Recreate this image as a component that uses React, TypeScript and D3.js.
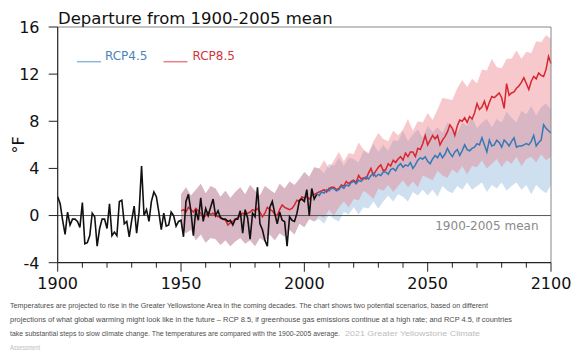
import React from "react";
import * as d3 from "d3";

// ---------- data ----------
const obsStart = 1900;
const observed = [
  1.6, 1.0, -0.4, -1.6, 0.3, -0.8, -0.3, -0.3, -0.5, -1.0,
  1.1, -2.4, -2.3, -1.7, 0.2, -0.1, -2.6, -1.1, -0.3, -0.3,
  -1.1, 1.0, -1.7, -1.4, -1.7, 1.2, 1.3, -0.7, -0.5, -1.8,
  -0.4, 0.8, -1.5, 0.3, 4.2, 0.0, 0.5, -0.5, 1.2, 2.0,
  1.6, 0.3, -1.2, 0.2, -0.9, -0.8, 0.3, 0.0, -0.9, -0.5,
  -0.4, -1.8, 1.2, 1.8, 0.4, -1.7, 0.5, -0.4, 1.5, -0.5,
  0.6, 0.0, 0.7, 1.4, 0.0, 0.4, -0.2, -0.3, -0.3, -0.5,
  -0.4, -0.8, -0.3, -0.3, 0.4, -1.5, 0.5, -0.2, -2.0, 0.2,
  -0.1, 2.4, -0.7, -1.2, -2.1, -2.6, 0.7, 1.2, 0.2, -0.7,
  0.3, -0.4, -0.5, -2.6, -0.1, -0.4, -0.5, 0.2, 1.3, 1.4,
  1.2, 2.2, 0.0, 2.3, 1.4, 1.8,
];

const modelStart = 1950;
const histMean = [
  0.4, 0.5, 0.3, 0.7, 0.5, 0.3, 0.6, 0.4, 0.2, -0.2,
  0.0, 0.3, 0.1, 0.2, 0.0, -0.1, -0.1, -0.3, -0.4, -0.8,
  -0.6, -0.5, -0.3, -0.2, 0.0, 0.2, 0.1, 0.2, 0.3, 0.5,
  0.4, 0.6, 0.3, -0.1, 0.2, 0.7, 0.5, 0.4, 0.1, 0.0,
  0.5, 0.9, 0.7, 0.6, 0.5, 0.6, 0.9, 1.3, 1.2, 1.6,
  1.5, 1.6, 1.4, 1.7, 1.8, 1.9,
];
const rcp85Proj = [
  2.0, 2.1, 2.2, 2.0, 2.3, 2.4, 2.4, 2.2, 2.3, 2.6,
  2.5, 2.9, 2.7, 2.9, 3.0, 2.8, 3.4, 3.1, 3.2, 3.1,
  3.6, 4.0, 3.4, 3.8, 4.1, 4.3, 3.8, 3.9, 4.4, 4.2,
  4.7, 4.5, 4.8, 5.0, 4.7, 5.3, 5.0, 5.4, 5.4, 5.0,
  5.7, 5.6, 6.1, 6.8, 6.0, 6.4, 6.8, 6.5, 6.8, 6.0,
  6.4, 6.7, 7.1, 7.7, 7.4, 6.8, 7.6, 8.1, 8.0, 8.3,
  7.9, 8.4, 8.2, 8.7, 9.5, 9.0, 9.2, 9.7, 9.0, 9.6,
  10.1, 10.0, 10.2, 10.4, 10.0, 9.1, 11.2, 10.2, 10.4, 10.5,
  10.8, 11.0, 11.3, 11.7, 11.2, 10.7, 11.4, 11.8, 11.6, 12.1,
  11.9, 11.8, 12.4, 13.5, 12.9,
];
const rcp45Proj = [
  1.7, 2.0, 1.9, 2.2, 2.1, 2.3, 2.3, 2.1, 2.2, 2.5,
  2.3, 2.6, 2.5, 2.8, 2.9, 2.7, 3.0, 2.9, 3.1, 3.3,
  3.1, 3.4, 3.6, 3.3, 3.5, 3.4, 3.7, 3.7, 3.5, 3.9,
  4.0, 3.8, 4.2, 4.4, 4.1, 4.3, 4.2, 4.5, 4.0, 4.3,
  4.7, 4.9, 4.8, 5.0, 4.6, 4.4, 4.8, 5.1, 4.9, 5.3,
  4.9, 5.2, 5.7, 5.3, 5.0, 5.4, 5.6, 5.1, 5.5, 6.0,
  5.6, 5.5, 5.7, 5.8, 6.1, 6.0, 6.6, 6.0, 5.4, 6.4,
  5.9, 6.0, 6.4, 6.2, 5.8, 6.4, 6.2, 5.9, 6.3, 6.6,
  5.8, 5.9, 5.9, 6.0, 6.1, 6.0, 6.3, 6.8, 5.9, 6.2,
  6.4, 7.7, 7.4, 7.2, 7.0,
];

// model spread, every 2 years from 1950
const bandStart = 1950;
const bandStep = 2;
const histHi = [
  1.8, 2.4, 1.7, 2.2, 2.7, 1.9, 2.5, 2.3, 1.6, 2.1,
  1.5, 2.0, 2.4, 1.8, 2.6, 2.1, 1.7, 2.5, 2.2, 1.9,
  2.7, 2.3, 2.9, 2.6, 3.1, 3.7, 3.3, 4.1,
];
const histLo = [
  -1.0, -1.5, -1.2, -2.1, -1.6, -2.3, -1.9, -2.0, -2.5, -2.1,
  -2.6, -2.2, -1.9, -2.4, -2.1, -2.6, -1.9, -2.2, -1.6, -2.1,
  -1.5, -1.8, -1.2, -1.6, -0.7, -1.0, -0.3, -0.5,
];
const rcp85HiProj = [
  4.0, 4.7, 4.0, 4.7, 5.4, 4.6, 5.3, 5.2, 6.2, 5.6,
  5.3, 6.3, 7.0, 6.5, 6.3, 7.2, 6.8, 7.3, 8.2, 7.2,
  8.0, 7.9, 8.7, 8.1, 9.0, 10.0, 9.9, 9.8, 10.8, 11.5,
  10.9, 11.6, 11.2, 12.4, 12.3, 13.3, 12.6, 12.5, 13.3, 13.3,
  14.0, 13.3, 13.9, 13.8, 14.8, 14.7, 15.3, 15.0,
];
const rcp85LoProj = [
  0.0, -0.2, 0.5, 0.0, 0.7, 1.2, 0.7, 1.4, 1.3, 2.1,
  1.8, 1.4, 2.3, 2.1, 2.6, 2.0, 2.5, 3.0, 2.4, 2.9,
  2.4, 3.4, 3.2, 3.0, 3.8, 3.4, 3.2, 3.9, 3.6, 4.2,
  3.5, 4.2, 4.1, 4.7, 4.0, 4.4, 4.8, 4.1, 4.7, 4.4,
  5.0, 4.2, 4.8, 5.0, 4.5, 5.2, 4.7, 5.0,
];
const rcp45HiProj = [
  4.0, 3.6, 4.4, 4.2, 4.9, 4.2, 4.9, 4.8, 4.5, 5.5,
  5.2, 6.1, 5.4, 6.0, 5.5, 6.4, 6.3, 7.2, 6.3, 6.9,
  7.3, 6.6, 7.6, 7.1, 7.5, 7.0, 7.9, 7.4, 7.0, 7.9,
  7.6, 8.4, 7.4, 7.9, 8.2, 7.5, 8.2, 7.9, 8.8, 8.3,
  7.9, 8.9, 8.6, 9.3, 8.5, 9.2, 9.5, 9.0,
];
const rcp45LoProj = [
  -0.3, -0.7, 0.1, -0.3, -0.5, 0.3, 0.1, 0.7, 0.1, 0.7,
  0.6, 1.2, 0.6, 1.2, 1.7, 1.2, 1.8, 1.6, 1.2, 2.0,
  1.7, 2.2, 1.7, 2.2, 1.6, 2.5, 2.1, 1.9, 2.5, 2.2,
  2.8, 2.2, 2.5, 2.8, 2.0, 2.6, 2.3, 2.8, 2.1, 2.5,
  2.8, 2.2, 2.6, 1.8, 2.6, 2.2, 1.9, 2.6,
];

const yTicks = [-4, 0, 4, 8, 12, 16];
const xMajorTicks = [1900, 1950, 2000, 2050, 2100];
const xMinorTicks = d3.range(1900, 2101, 10);
const seriesNames = ["RCP4.5", "RCP8.5"];
const titleText = "Departure from 1900-2005 mean";
const yLabel = "°F";
const zeroLabel = "1900-2005 mean";
const captionLines = [
  "Temperatures are projected to rise in the Greater Yellowstone Area in the coming decades. The chart shows two potential scenarios, based on different",
  "projections of what global warming might look like in the future – RCP 8.5, if greenhouse gas emissions continue at a high rate; and RCP 4.5, if countries",
  "take substantial steps to slow climate change. The temperatures are compared with the 1900-2005 average.",
];
const captionSource1 = "2021 Greater Yellowstone Climate";
const captionSource2 = "Assessment";

// ---------- chart ----------
const W = 578;
const H = 354;
const x = d3.scaleLinear().domain([1900, 2100]).range([57.7, 551]);
const y = d3.scaleLinear().domain([-4, 16]).range([262.7, 27]);

type P = { t: number; v: number };
type B = { t: number; lo: number; hi: number };

const toPts = (start: number, vals: number[], step = 1): P[] =>
  vals.map((v, i) => ({ t: start + i * step, v }));

const obsPts = toPts(obsStart, observed);
const rcp85Pts = toPts(modelStart, [...histMean, ...rcp85Proj]);
const rcp45Pts = toPts(modelStart, [...histMean, ...rcp45Proj]);

const mkBand = (lo: number[], hi: number[]): B[] =>
  lo.map((l, i) => ({ t: bandStart + i * bandStep, lo: l, hi: hi[i] }));
const band85 = mkBand([...histLo, ...rcp85LoProj], [...histHi, ...rcp85HiProj]);
const band45 = mkBand([...histLo, ...rcp45LoProj], [...histHi, ...rcp45HiProj]);

const line = d3
  .line<P>()
  .x((d) => x(d.t))
  .y((d) => y(d.v));
const area = d3
  .area<B>()
  .x((d) => x(d.t))
  .y0((d) => y(d.lo))
  .y1((d) => y(d.hi));

const RED = "#d7262e";
const BLUE = "#3579b6";
const FONT = "'DejaVu Sans', sans-serif";

export default function App() {
  const x0 = x(1900);
  const x1 = x(2100);
  const yb = y(-4);
  const yt = y(16);
  return (
    <svg
      width={W}
      height={H}
      style={{ position: "absolute", left: 0, top: 0, background: "#fff" }}
    >
      <rect x={0} y={0} width={W} height={H} fill="#fff" />
      {/* bands */}
      <path d={area(band45) || ""} fill="rgb(120,165,210)" fillOpacity={0.36} />
      <path d={area(band85) || ""} fill="rgb(235,120,130)" fillOpacity={0.4} />
      {/* zero line */}
      <line x1={x0} x2={x1} y1={y(0)} y2={y(0)} stroke="#555" strokeWidth={1} />
      <text
        x={538.5}
        y={230}
        textAnchor="end"
        fontFamily={FONT}
        fontSize={12}
        fill="#8a8a8a"
      >
        {zeroLabel}
      </text>
      {/* series */}
      <path d={line(rcp85Pts) || ""} fill="none" stroke={RED} strokeWidth={1.5} />
      <path d={line(rcp45Pts.filter((d) => d.t >= 2005)) || ""} fill="none" stroke={BLUE} strokeWidth={1.5} />
      <path d={line(obsPts) || ""} fill="none" stroke="#111" strokeWidth={1.6} />
      {/* spines */}
      <line x1={x0} x2={x1} y1={yt} y2={yt} stroke="#888" strokeWidth={1} />
      <line x1={x1} x2={x1} y1={yt} y2={yb} stroke="#888" strokeWidth={1} />
      <line x1={x0} x2={x0} y1={yt} y2={yb} stroke="#222" strokeWidth={1.2} />
      <line x1={x0} x2={x1} y1={yb} y2={yb} stroke="#222" strokeWidth={1.2} />
      {/* y ticks */}
      {yTicks.map((t) => (
        <g key={"y" + t}>
          <line x1={x0 - 9} x2={x0} y1={y(t)} y2={y(t)} stroke="#222" strokeWidth={1} />
          <text
            x={39.5}
            y={y(t) + 5.8}
            textAnchor="end"
            fontFamily={FONT}
            fontSize={16}
            fill="#111"
          >
            {t}
          </text>
        </g>
      ))}
      {/* x ticks */}
      {xMinorTicks.map((t) => (
        <line
          key={"m" + t}
          x1={x(t)}
          x2={x(t)}
          y1={yb}
          y2={yb + (xMajorTicks.includes(t) ? 9 : 5)}
          stroke="#222"
          strokeWidth={1}
        />
      ))}
      {xMajorTicks.map((t) => (
        <text
          key={"x" + t}
          x={x(t)}
          y={289}
          textAnchor="middle"
          fontFamily={FONT}
          fontSize={16}
          fill="#111"
        >
          {t}
        </text>
      ))}
      {/* y label */}
      <text
        transform={`translate(24,${(yt + yb) / 2}) rotate(-90)`}
        textAnchor="middle"
        fontFamily={FONT}
        fontSize={16}
        fill="#111"
      >
        {yLabel}
      </text>
      {/* title */}
      <text x={58} y={24} fontFamily={FONT} fontSize={16.5} fill="#111">
        {titleText}
      </text>
      {/* legend */}
      <line x1={77} x2={101} y1={61.7} y2={61.7} stroke="#8cb7dc" strokeWidth={1.5} />
      <text x={105} y={59.5} fontFamily={FONT} fontSize={12} fill="#4a84ba">
        {seriesNames[0]}
      </text>
      <line x1={163.5} x2={187.5} y1={61.7} y2={61.7} stroke="#e87f84" strokeWidth={1.5} />
      <text x={192.5} y={59.5} fontFamily={FONT} fontSize={12} fill="#d3333b">
        {seriesNames[1]}
      </text>
      {/* caption */}
      <g fontFamily="'Liberation Sans', Arial, sans-serif" fontSize={7.3} fill="#4d4d4d">
        <text x={10} y={308} textLength={478} lengthAdjust="spacingAndGlyphs">
          {captionLines[0]}
        </text>
        <text x={10} y={322} textLength={502} lengthAdjust="spacingAndGlyphs">
          {captionLines[1]}
        </text>
        <text x={10} y={336} fontSize={6.9} textLength={330} lengthAdjust="spacingAndGlyphs">
          {captionLines[2]}
        </text>
        <text x={345} y={336} fill="#bdbdbd" textLength={135} lengthAdjust="spacingAndGlyphs">
          {captionSource1}
        </text>
        <text x={10} y={350} fill="#bdbdbd" textLength={30} lengthAdjust="spacingAndGlyphs">
          {captionSource2}
        </text>
      </g>
    </svg>
  );
}
